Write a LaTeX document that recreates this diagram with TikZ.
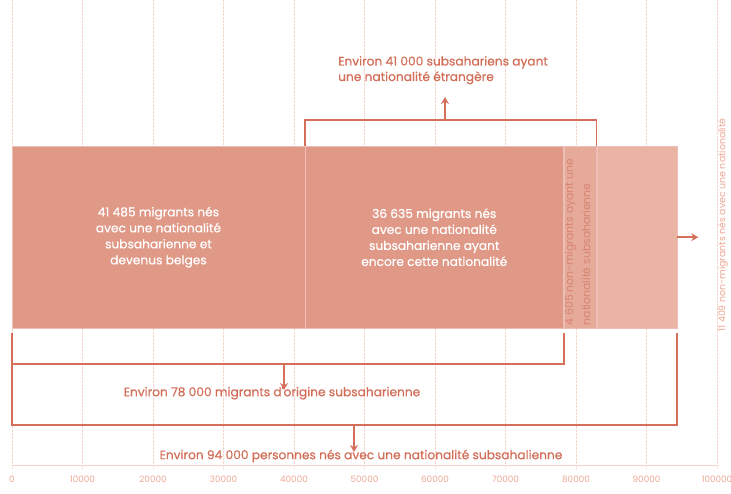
\documentclass[tikz,border=0pt]{standalone}
\usepackage{fontspec}
\setmainfont{Poppins}
\newfontfamily\medfont{Poppins}[FakeBold=0.6]
\usetikzlibrary{arrows.meta,positioning,calc}
\definecolor{barfill}{RGB}{224,152,135}
\definecolor{barmid}{RGB}{230,170,154}
\definecolor{barlight}{RGB}{233,180,164}
\definecolor{edgecol}{RGB}{213,110,90}
\definecolor{txtcol}{RGB}{210,110,88}
\definecolor{gridcol}{RGB}{247,212,203}
\definecolor{ticktxt}{RGB}{236,166,148}
\tikzset{
    %Define standard arrow tip
    >={Stealth[length=7pt,width=8pt]},
    %Define style for bar segments
    segment/.style={
           rectangle,
           draw=edgecol!45,
           fill=barfill,
           minimum height=182pt,
           inner sep=0pt,
           text=white,
           align=center,
           font=\medfont\fontsize{12.2}{16}\selectfont},
    % Define bracket style
    klamme/.style={
           draw=edgecol,
           line width=1.8pt},
    % Define arrow style
    pil/.style={
           ->,
           draw=edgecol,
           line width=1.6pt},
    % Define style for captions
    etikett/.style={
           text=txtcol,
           inner sep=0pt,
           font=\medfont\fontsize{12.2}{15.5}\selectfont},
    akse/.style={
           text=ticktxt,
           inner sep=0pt,
           font=\fontsize{8.8}{10}\selectfont}
}

\begin{document}
\begin{tikzpicture}[x=1pt, y=-1pt]
\useasboundingbox (0,0) rectangle (731,493);

% grid and axis
\foreach \i in {0,...,10}
  \draw[gridcol, densely dotted] ({12+70.5*\i},0) -- ({12+70.5*\i},468);
\draw[gridcol] (12,465) -- (717,465);
\foreach \i/\t in {0/0,1/10000,2/20000,3/30000,4/40000,5/50000,6/60000,7/70000,8/80000,9/90000,10/100000}
  \node[akse] (tick\i) at ({12+70.5*\i},479) {\t};

\node[segment, minimum width=292.5pt, anchor=north west] (belges) at (12,146)
  {41 485 migrants nés\\avec une nationalité\\subsaharienne et\\devenus belges};
\node[segment, minimum width=258.3pt, right=0pt of belges] (etrangers)
  {36 635 migrants nés\\avec une nationalité\\subsaharienne ayant\\encore cette nationalité};
\node[segment, fill=barmid, minimum width=32.5pt, right=0pt of etrangers] (nonmig) {};
\node[segment, fill=barlight, minimum width=80.4pt, right=0pt of nonmig] (nes) {};

\node[etikett, text=txtcol!85, rotate=90, anchor=north west, align=left,
  font=\fontsize{10.8}{17}\selectfont] (nonmig-txt) at ($(nonmig.south west)+(1,-3)$)
  {4 605 non-migrants ayant une\\nationalité subsaharienne};
\node[akse, rotate=90, font=\fontsize{9.4}{11}\selectfont] (nes-txt) at (723,225)
  {11 409 non-migrants nés avec une nationalité};

% brackets
\coordinate (etr-mid) at (445,120);
\coordinate (mig-mid) at (284,364);
\coordinate (tot-mid) at (354,425);
\draw[klamme] (etrangers.north west) |- (etr-mid) -| (nonmig.north east);
\draw[klamme] ($(belges.south west)+(0,5)$) |- (mig-mid) -| ($(etrangers.south east)+(0,5)$);
\draw[klamme] ($(belges.south west)+(0,5)$) |- (tot-mid) -| ($(nes.south east)+(0,5)$);

\node[etikett, anchor=north west, align=left] (etr-lbl) at (338,56)
  {Environ 41 000 subsahariens ayant\\une nationalité étrangère};
\node[etikett] (mig-lbl) at (272,393) {Environ 78 000 migrants d'origine subsaharienne};
\node[etikett] (tot-lbl) at (361,456) {Environ 94 000 personnes nés avec une nationalité subsahalienne};

\draw[pil] (etr-mid) -- ++(0,-23);
\draw[pil] (mig-mid) -- ++(0,26);
\draw[pil] (tot-mid) -- ++(0,27);
\draw[pil] (nes.east) -- ++(21,0);
\end{tikzpicture}
\end{document}
